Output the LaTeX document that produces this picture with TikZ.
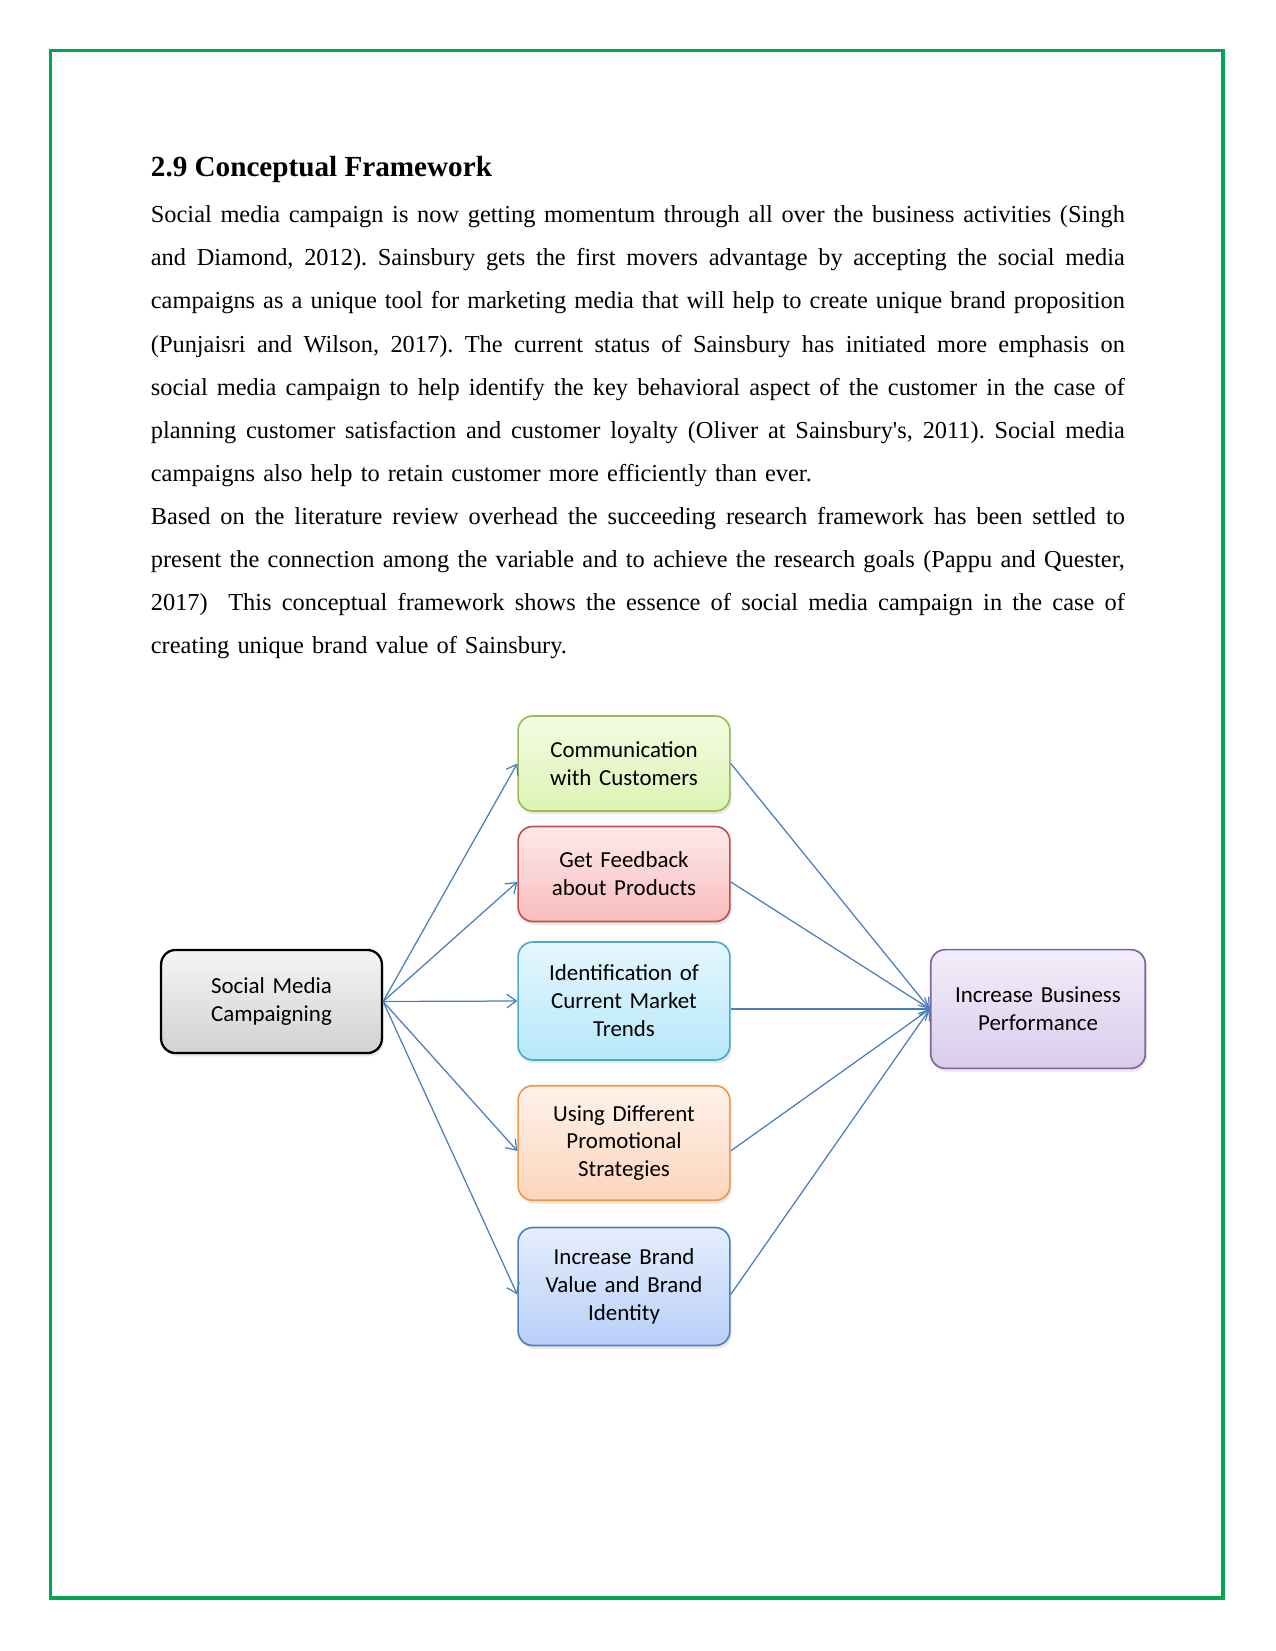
\documentclass[tikz,border=0pt]{standalone}
\usepackage{fontspec}
\setmainfont{Liberation Serif}
\newfontfamily\boxfont{Carlito}
\usetikzlibrary{arrows.meta,shadows}

\definecolor{frameGreen}{HTML}{00A651}
\definecolor{linkBlue}{HTML}{4A7EBB}
\newcommand{\jline}[1]{\leavevmode\hbox to 467.5pt{\spaceskip=0.25em plus 1em minus 0.08em\relax #1}}
\frenchspacing

\begin{document}
\begin{tikzpicture}[
  x=0.48pt,y=-0.48pt,
  box/.style={rounded corners=7pt,line width=0.8pt,align=center,text width=95pt,
    font=\boxfont\fontsize{11}{13.4}\selectfont,
    drop shadow={opacity=0.18,shadow xshift=0.8pt,shadow yshift=-1.6pt}},
  greybox/.style={box,draw=black,line width=1.1pt,top color=white!96!black,bottom color=black!18},
  greenbox/.style={box,draw={rgb,255:red,155;green,187;blue,89},top color={rgb,255:red,243;green,251;blue,224},bottom color={rgb,255:red,221;green,244;blue,180}},
  redbox/.style={box,draw={rgb,255:red,192;green,80;blue,77},top color={rgb,255:red,253;green,234;blue,234},bottom color={rgb,255:red,249;green,188;blue,188}},
  cyanbox/.style={box,draw={rgb,255:red,75;green,172;blue,198},top color={rgb,255:red,228;green,247;blue,253},bottom color={rgb,255:red,183;green,232;blue,250}},
  orangebox/.style={box,draw={rgb,255:red,247;green,150;blue,70},top color={rgb,255:red,255;green,242;blue,235},bottom color={rgb,255:red,252;green,213;blue,187}},
  bluebox/.style={box,draw={rgb,255:red,79;green,129;blue,189},top color={rgb,255:red,229;green,238;blue,253},bottom color={rgb,255:red,184;green,207;blue,247}},
  purplebox/.style={box,draw={rgb,255:red,128;green,100;blue,162},top color={rgb,255:red,242;green,238;blue,248},bottom color={rgb,255:red,217;green,204;blue,236}},
  link/.style={-{Straight Barb[length=4.5pt,width=6.5pt]},draw=linkBlue,line width=0.6pt}
]
\useasboundingbox (0,0) rectangle (1275,1651);
\draw[frameGreen,line width=1.5pt] (50.5,50.5) rectangle (1223,1598);

\node[anchor=base west,inner sep=0pt,font=\fontsize{14}{17}\selectfont\bfseries] (heading) at (150.5,177) {2.9 Conceptual Framework};

\node[anchor=base west,inner sep=0pt,text width=467.5pt,align=left,font=\fontsize{11.7}{20.7}\selectfont] (body) at (150.5,222.7) {%
\jline{Social media campaign is now getting momentum through all over the business activities (Singh}\\
\jline{and Diamond, 2012). Sainsbury gets the first movers advantage by accepting the social media}\\
\jline{campaigns as a unique tool for marketing media that will help to create unique brand proposition}\\
\jline{(Punjaisri and Wilson, 2017). The current status of Sainsbury has initiated more emphasis on}\\
\jline{social media campaign to help identify the key behavioral aspect of the customer in the case of}\\
\jline{planning customer satisfaction and customer loyalty (Oliver at Sainsbury\textquotesingle s, 2011). Social media}\\
campaigns also help to retain customer more efficiently than ever.\\
\jline{Based on the literature review overhead the succeeding research framework has been settled to}\\
\jline{present the connection among the variable and to achieve the research goals (Pappu and Quester,}\\
\jline{2017)\ \ This conceptual framework shows the essence of social media campaign in the case of}\\
creating unique brand value of Sainsbury.};

% framework
\node[greybox,minimum width=106pt,minimum height=49.5pt] (social) at (271.5,1001.5) {Social Media\\Campaigning};
\node[greenbox,minimum height=45.6pt] (comm) at (624,763.5) {Communication\\with Customers};
\node[redbox,minimum height=45.6pt] (feedback) at (624,874) {Get Feedback\\about Products};
\node[cyanbox,minimum height=56.6pt] (trends) at (624,1001) {Identification of\\Current Market\\Trends};
\node[orangebox,minimum height=55pt] (promo) at (624,1143) {Using Different\\Promotional\\Strategies};
\node[bluebox,minimum height=56.6pt] (brand) at (624,1286.5) {Increase Brand\\Value and Brand\\Identity};
\node[purplebox,minimum width=103pt,minimum height=57pt] (business) at (1038,1009) {Increase Business\\Performance};

\foreach \n/\s in {comm/0,feedback/-3.8,promo/-3.8,brand/-3.8}{
  \draw[link] (social.east) -- ([yshift=\s pt]\n.west);
  \draw[link] ([yshift=\s pt]\n.east) -- (business.west);
}
\draw[link] (social.east) -- (trends.west);
\draw[link] (trends.east |- business.west) -- (business.west);
\end{tikzpicture}
\end{document}
